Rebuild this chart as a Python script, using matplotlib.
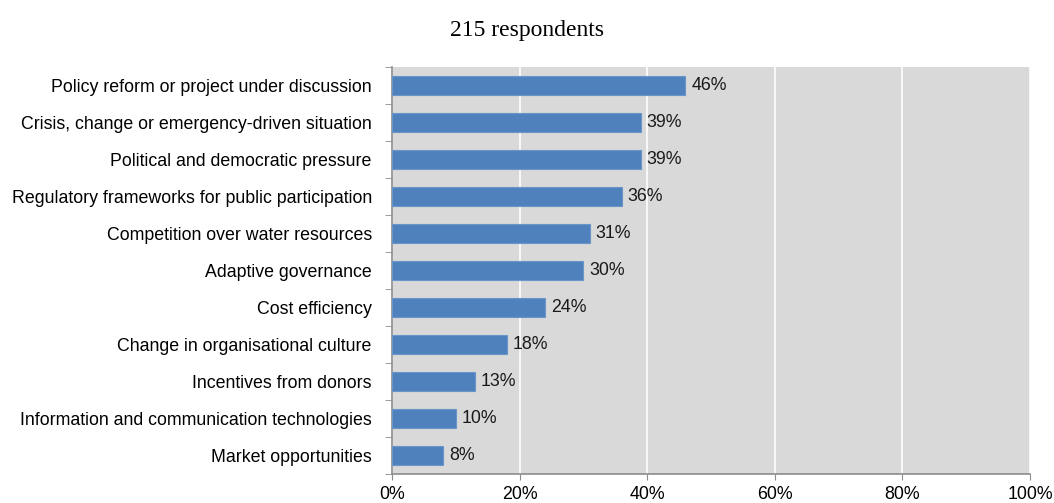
import matplotlib.pyplot as plt
import numpy as np

# Drivers of stakeholder engagement, share of respondents
categorias = [
    "Policy reform or project under discussion",
    "Crisis, change or emergency-driven situation",
    "Political and democratic pressure",
    "Regulatory frameworks for public participation",
    "Competition over water resources",
    "Adaptive governance",
    "Cost efficiency",
    "Change in organisational culture",
    "Incentives from donors",
    "Information and communication technologies",
    "Market opportunities",
]
valores = [46, 39, 39, 36, 31, 30, 24, 18, 13, 10, 8]
ticks_x = [0, 20, 40, 60, 80, 100]
titulo = "215 respondents"

plt.rcParams['font.family'] = ['Liberation Sans', 'DejaVu Sans']
fs = 12.8

fig = plt.figure(figsize=(10.54, 5.03), dpi=100)
ax = fig.add_axes([0.3719, 0.0577, 0.6053, 0.8091])
ax.set_facecolor("#D9D9D9")

y = np.arange(len(categorias))
ax.barh(y, valores, height=0.53, color="#4F81BD", edgecolor="#6A95C9",
        linewidth=0.8, zorder=3)

for yi, v in zip(y, valores):
    ax.text(v + 0.9, yi, f"{v}%", va="center", ha="left", fontsize=fs,
            color="#1a1a1a", zorder=4)

ax.set_xlim(0, 100)
ax.set_ylim(len(categorias) - 0.5, -0.5)
ax.set_xticks(ticks_x)
ax.set_xticklabels([f"{t}%" for t in ticks_x], fontsize=fs)
ax.set_yticks(y)
ax.set_yticklabels(categorias, fontsize=fs)
ax.set_yticks(np.arange(-0.5, len(categorias), 1), minor=True)

ax.tick_params(axis="y", which="major", length=0, pad=14.5)
ax.tick_params(axis="y", which="minor", length=5, color="#8c8c8c", direction="out")
ax.tick_params(axis="x", length=4, color="#8c8c8c", direction="out", pad=4.5)

ax.xaxis.grid(True, color="white", linewidth=1.2, zorder=1)
ax.set_axisbelow(True)

for lado in ["top", "right"]:
    ax.spines[lado].set_visible(False)
for lado in ["left", "bottom"]:
    ax.spines[lado].set_color("#8c8c8c")
    ax.spines[lado].set_linewidth(1.2)

fig.text(0.5, 0.94, titulo, ha="center", va="center", fontsize=17,
         family="Liberation Serif")

plt.savefig("out.png", dpi=100)
